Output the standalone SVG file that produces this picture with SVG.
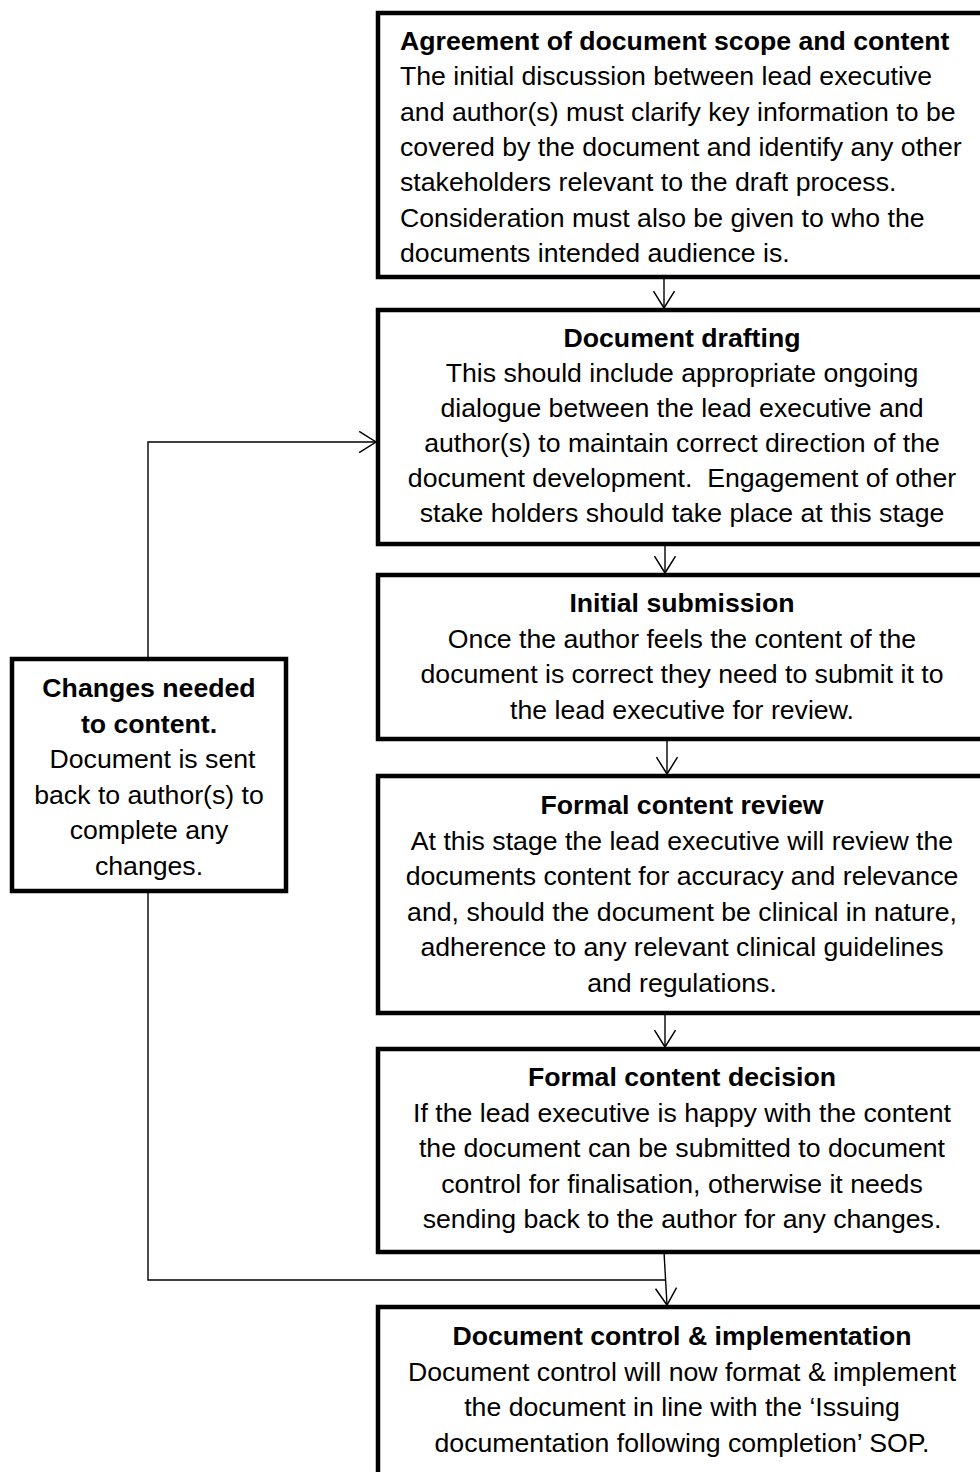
<svg xmlns="http://www.w3.org/2000/svg" width="980" height="1472" viewBox="0 0 980 1472">
<style>
.box{fill:#fff;stroke:#000;stroke-width:4.5}
.t{font-family:"Liberation Sans",Arial,sans-serif;font-size:26.67px;fill:#000}
.b{font-weight:bold}
.c{text-anchor:middle}
.con{fill:none;stroke:#000;stroke-width:1.4}
</style>
<defs>
<marker id="ah" markerUnits="userSpaceOnUse" markerWidth="20" markerHeight="24" viewBox="-17 -11 19 22" refX="0" refY="0" orient="auto">
<path d="M-16,-10 L0,0 L-16,10" fill="none" stroke="#000" stroke-width="1.4"/>
</marker>
</defs>
<g id="connectors">
<line class="con" x1="664" y1="277" x2="664" y2="308" marker-end="url(#ah)"/>
<line class="con" x1="665" y1="544" x2="665" y2="573" marker-end="url(#ah)"/>
<line class="con" x1="667" y1="739" x2="667" y2="774" marker-end="url(#ah)"/>
<line class="con" x1="665" y1="1013" x2="665" y2="1047" marker-end="url(#ah)"/>
<line class="con" x1="664" y1="1252" x2="667" y2="1305" marker-end="url(#ah)"/>
<polyline class="con" points="148,659 148,442 376,442" marker-end="url(#ah)"/>
<polyline class="con" points="148,891 148,1280 665,1280"/>
</g>
<g id="n1">
<rect class="box" x="378" y="13" width="620" height="264"/>
<text class="t b" x="400" y="50">Agreement of document scope and content</text>
<text class="t" x="400" y="85.3">The initial discussion between lead executive</text>
<text class="t" x="400" y="120.6">and author(s) must clarify key information to be</text>
<text class="t" x="400" y="155.9">covered by the document and identify any other</text>
<text class="t" x="400" y="191.2">stakeholders relevant to the draft process.</text>
<text class="t" x="400" y="226.5">Consideration must also be given to who the</text>
<text class="t" x="400" y="261.8">documents intended audience is.</text>
</g>
<g id="n2">
<rect class="box" x="378" y="310" width="620" height="234"/>
<text class="t b c" x="682" y="347">Document drafting</text>
<text class="t c" x="682" y="382">This should include appropriate ongoing</text>
<text class="t c" x="682" y="417">dialogue between the lead executive and</text>
<text class="t c" x="682" y="452">author(s) to maintain correct direction of the</text>
<text class="t c" x="682" y="487" xml:space="preserve">document development.  Engagement of other</text>
<text class="t c" x="682" y="522">stake holders should take place at this stage</text>
</g>
<g id="n3">
<rect class="box" x="378" y="575" width="620" height="164"/>
<text class="t b c" x="682" y="612">Initial submission</text>
<text class="t c" x="682" y="647.5">Once the author feels the content of the</text>
<text class="t c" x="682" y="683">document is correct they need to submit it to</text>
<text class="t c" x="682" y="718.5">the lead executive for review.</text>
</g>
<g id="n4">
<rect class="box" x="378" y="776" width="620" height="237"/>
<text class="t b c" x="682" y="814">Formal content review</text>
<text class="t c" x="682" y="849.5">At this stage the lead executive will review the</text>
<text class="t c" x="682" y="885">documents content for accuracy and relevance</text>
<text class="t c" x="682" y="920.5">and, should the document be clinical in nature,</text>
<text class="t c" x="682" y="956">adherence to any relevant clinical guidelines</text>
<text class="t c" x="682" y="991.5">and regulations.</text>
</g>
<g id="n5">
<rect class="box" x="378" y="1049" width="620" height="203"/>
<text class="t b c" x="682" y="1086">Formal content decision</text>
<text class="t c" x="682" y="1121.5">If the lead executive is happy with the content</text>
<text class="t c" x="682" y="1157">the document can be submitted to document</text>
<text class="t c" x="682" y="1192.5">control for finalisation, otherwise it needs</text>
<text class="t c" x="682" y="1228">sending back to the author for any changes.</text>
</g>
<g id="n6">
<rect class="box" x="378" y="1307" width="620" height="200"/>
<text class="t b c" x="682" y="1345">Document control &amp; implementation</text>
<text class="t c" x="682" y="1380.5">Document control will now format &amp; implement</text>
<text class="t c" x="682" y="1416">the document in line with the ‘Issuing</text>
<text class="t c" x="682" y="1451.5">documentation following completion’ SOP.</text>
</g>
<g id="n7">
<rect class="box" x="12" y="659" width="274" height="232"/>
<text class="t b c" x="149" y="697">Changes needed</text>
<text class="t b c" x="149" y="732.5">to content.</text>
<text class="t c" x="152.5" y="768">Document is sent</text>
<text class="t c" x="149" y="803.5">back to author(s) to</text>
<text class="t c" x="149" y="839">complete any</text>
<text class="t c" x="149" y="874.5">changes.</text>
</g>
</svg>
